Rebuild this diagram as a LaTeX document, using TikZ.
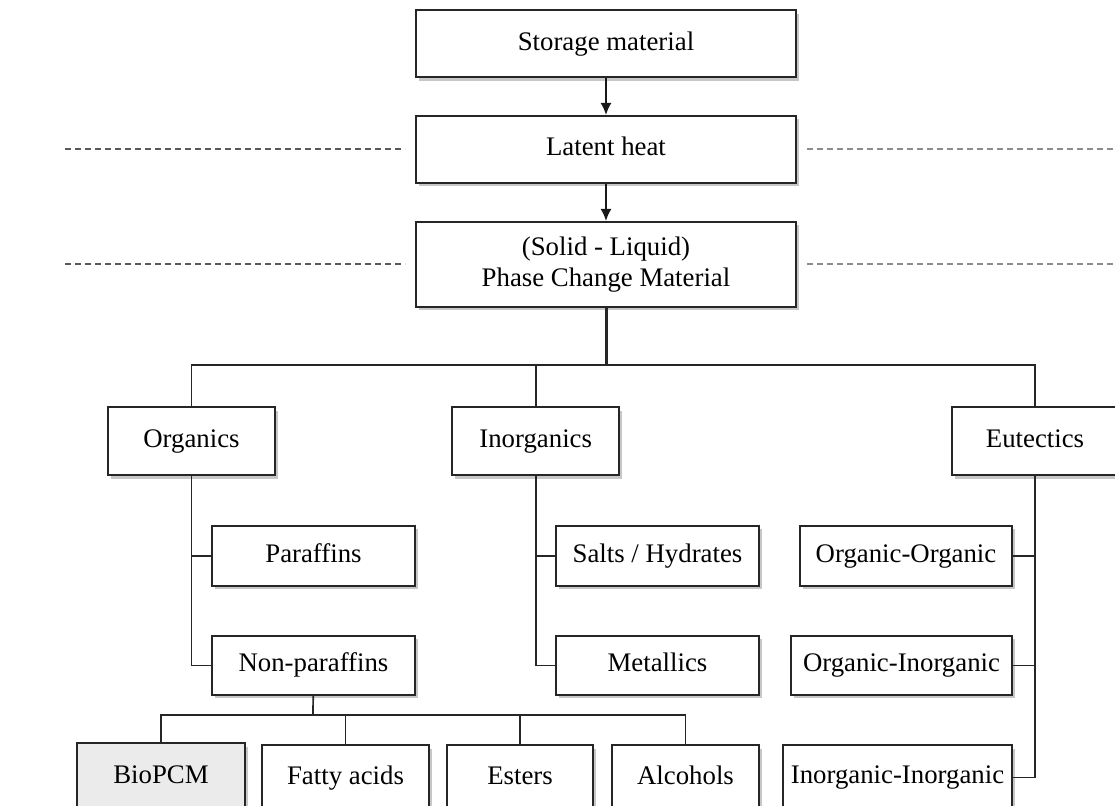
\documentclass[tikz,border=0pt]{standalone}
\usepackage{fontspec}
\setmainfont{Liberation Serif}
\usetikzlibrary{positioning,shadows,arrows.meta}

\begin{document}
\begin{tikzpicture}[x=0.5pt,y=-0.5pt]
 	\tikzstyle{box}=[rectangle, draw=black!85, line width=1pt, fill=white, inner sep=0pt, align=center, text height=9.2pt, text depth=3pt, font=\fontsize{13.4pt}{15.5pt}\selectfont, drop shadow={shadow xshift=1.6pt, shadow yshift=-1.6pt, fill=black!22, opacity=1}]
 	\tikzstyle{connect}=[-{Latex[length=6pt,width=5.5pt]}, line width=0.9pt, draw=black!90]
 	\tikzstyle{link}=[line width=0.85pt, draw=black!85]
 	\tikzstyle{sep}=[dash pattern=on 3pt off 2pt, line width=1pt]
 	\useasboundingbox (0,0) rectangle (1115,806);
 	\node[box, minimum width=190pt, minimum height=33.5pt] (storage) at (606,44) {Storage material};
 	\node[box, minimum width=190pt, minimum height=33.5pt] (latent) [below=18.25pt of storage] {Latent heat};
 	\node[box, minimum width=190pt, minimum height=42.5pt, text height={}, text depth={}] (pcm) [below=18.5pt of latent] {(Solid - Liquid)\\Phase Change Material};
 	\node[box, minimum width=83.5pt, minimum height=34pt] (organics) at (191.5,441.5) {Organics};
 	\node[box, minimum width=83.5pt, minimum height=34pt] (inorganics) at (535.7,441.5) {Inorganics};
 	\node[box, minimum width=83pt, minimum height=34pt] (eutectics) at (1035,441.5) {Eutectics};
 	\node[box, minimum width=101.5pt, minimum height=30pt] (paraffins) at (313.5,556) {Paraffins};
 	\node[box, minimum width=101.5pt, minimum height=29.5pt] (nonpar) [below=24pt of paraffins] {Non-paraffins};
 	\node[box, minimum width=101.5pt, minimum height=30pt] (salts) [right=69.5pt of paraffins] {Salts / Hydrates};
 	\node[box, minimum width=101.5pt, minimum height=29.5pt] (metallics) [below=24pt of salts] {Metallics};
 	\node[box, minimum width=106pt, minimum height=30pt, anchor=east] (orgorg) at (1013,556) {Organic-Organic};
 	\node[box, minimum width=110.5pt, minimum height=29.5pt, anchor=east] (orginorg) at (1013,665.5) {Organic-Inorganic};
 	\node[box, minimum width=114.5pt, minimum height=32pt, anchor=east] (inorginorg) at (1013,777.5) {Inorganic-Inorganic};
 	\node[box, fill=black!8, minimum width=84pt, minimum height=34pt] (biopcm) at (161,777.5) {BioPCM};
 	\node[box, minimum width=83.5pt, minimum height=32.5pt] (fatty) at (345.5,778) {Fatty acids};
 	\node[box, minimum width=73pt, minimum height=32.5pt] (esters) at (520,778) {Esters};
 	\node[box, minimum width=73.5pt, minimum height=32.5pt] (alcohols) at (685.5,778) {Alcohols};
 	\coordinate (hub) at (606,365);
 	\coordinate (nphub) at (313,715);
 	\coordinate (farleft) at (65,0);
 	\coordinate (farright) at (1115,0);
 	\draw[connect] (storage) -- (latent);
 	\draw[connect] (latent) -- (pcm);
 	\draw[link, line width=1.5pt] (pcm) -- (hub);
 	\draw[link] (organics) |- (hub) -| (eutectics);
 	\draw[link] (inorganics) -- (inorganics |- hub);
 	\draw[link] (organics) |- (paraffins);
 	\draw[link] (organics) |- (nonpar);
 	\draw[link] (inorganics) |- (salts);
 	\draw[link] (inorganics) |- (metallics);
 	\draw[link] (eutectics) |- (orgorg);
 	\draw[link] (eutectics) |- (orginorg);
 	\draw[link] (eutectics) |- (inorginorg);
 	\draw[link] (nonpar) -- (nphub);
 	\draw[link] (biopcm) |- (nphub) -| (alcohols);
 	\draw[link] (fatty) -- (fatty |- nphub);
 	\draw[link] (esters) -- (esters |- nphub);
 	\draw[sep, black!65] (latent.west -| farleft) -- ([xshift=-5pt]latent.west);
 	\draw[sep, black!45] ([xshift=5pt]latent.east) -- (latent.east -| farright);
 	\draw[sep, black!65] (pcm.west -| farleft) -- ([xshift=-5pt]pcm.west);
 	\draw[sep, black!45] ([xshift=5pt]pcm.east) -- (pcm.east -| farright);
\end{tikzpicture}
\end{document}
